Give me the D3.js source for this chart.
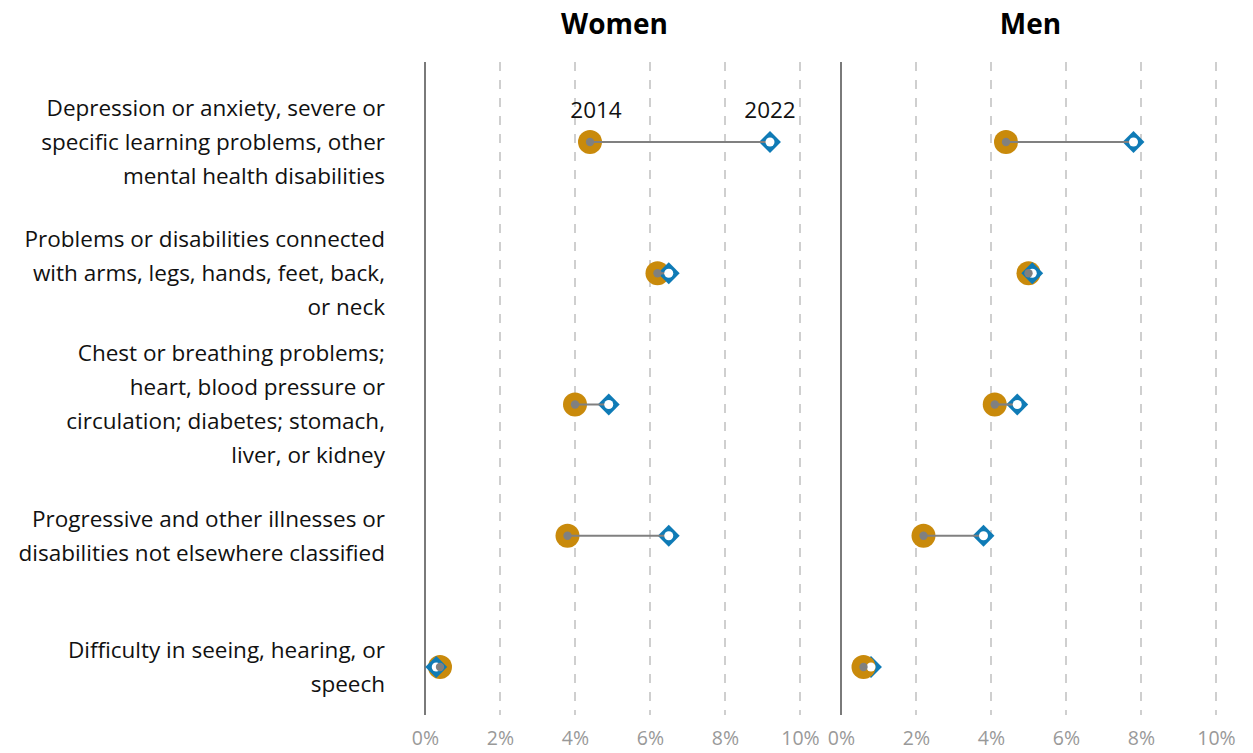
<!DOCTYPE html>
<html><head><meta charset="utf-8">
<script src="https://cdn.jsdelivr.net/npm/d3@7"></script>
<style>body{margin:0;background:#fff}svg{display:block}</style>
</head><body><div id="chart"></div>
<script>
const categories = [
  ["Depression or anxiety, severe or","specific learning problems, other","mental health disabilities"],
  ["Problems or disabilities connected","with arms, legs, hands, feet, back,","or neck"],
  ["Chest or breathing problems;","heart, blood pressure or","circulation; diabetes; stomach,","liver, or kidney"],
  ["Progressive and other illnesses or","disabilities not elsewhere classified"],
  ["Difficulty in seeing, hearing, or","speech"]
];
const panels = ["Women","Men"];
const women2014 = [4.4, 6.2, 4.0, 3.8, 0.4];
const women2022 = [9.2, 6.5, 4.9, 6.5, 0.3];
const men2014 = [4.4, 5.0, 4.1, 2.2, 0.6];
const men2022 = [7.8, 5.1, 4.7, 3.8, 0.8];
const tickValues = [0, 2, 4, 6, 8, 10];
const years = ["2014", "2022"];

const W = 1253, H = 753;
const font = "'Open Sans', 'Lato', sans-serif";
const gold = "#c98a0b", blue = "#0f7bb6";
const svg = d3.select("#chart").append("svg").attr("width", W).attr("height", H)
  .style("font-family", font);

const y = d3.scalePoint().domain(d3.range(categories.length)).range([142, 667]);
const panelX = [
  d3.scaleLinear().domain([0, 10]).range([425, 800]),
  d3.scaleLinear().domain([0, 10]).range([841, 1216])
];
const data = [
  {a: women2014, b: women2022},
  {a: men2014, b: men2022}
];

const lab = svg.append("g");
categories.forEach((lines, i) => {
  const n = lines.length, lh = 34;
  const t = lab.append("text").attr("text-anchor", "end").attr("font-size", 22.5).attr("fill", "#111");
  lines.forEach((l, j) => {
    t.append("tspan").attr("x", 385).attr("y", y(i) + (j - (n - 1) / 2) * lh).attr("dy", "0.35em").text(l);
  });
});

panels.forEach((p, pi) => {
  const x = panelX[pi];
  const g = svg.append("g");
  g.append("text").attr("x", (x(0) + x(10)) / 2 + 2).attr("y", 34).attr("text-anchor", "middle")
    .attr("font-size", 28).attr("font-weight", "bold").attr("fill", "#000").text(p);
  g.selectAll("line.grid").data(tickValues.filter(d => d > 0)).join("line")
    .attr("x1", d => x(d)).attr("x2", d => x(d)).attr("y1", 62).attr("y2", 715)
    .attr("stroke", "#cfcfcf").attr("stroke-width", 2).attr("stroke-dasharray", "9,9");
  g.append("line").attr("x1", x(0)).attr("x2", x(0)).attr("y1", 62).attr("y2", 715)
    .attr("stroke", "#7a7a7a").attr("stroke-width", 2);
  const ax = d3.axisBottom(x).tickValues(tickValues).tickFormat(d => d + "%").tickSize(0).tickPadding(0);
  const axg = g.append("g").attr("transform", "translate(0,738)").call(ax);
  axg.select(".domain").remove();
  axg.selectAll("text").attr("font-size", 19.5).attr("fill", "#999").attr("font-family", font)
    .attr("dy", "0.35em");

  const d = data[pi];
  const rows = d3.range(categories.length);
  rows.forEach(i => {
    const cy = y(i);
    const drawCircle = () => g.append("circle").attr("cx", x(d.a[i])).attr("cy", cy).attr("r", 12).attr("fill", gold);
    const drawDiamond = () => g.append("path")
      .attr("d", d3.symbol().type(d3.symbolSquare).size(240))
      .attr("transform", `translate(${x(d.b[i])},${cy}) rotate(45)`).attr("fill", blue);
    if (pi === 1 && i === categories.length - 1) { drawDiamond(); drawCircle(); }
    else { drawCircle(); drawDiamond(); }
    g.append("line").attr("x1", x(d.a[i])).attr("x2", x(d.b[i])).attr("y1", cy).attr("y2", cy)
      .attr("stroke", "#808080").attr("stroke-width", 2.2);
    g.append("circle").attr("cx", x(d.b[i])).attr("cy", cy).attr("r", 4.5).attr("fill", "#fff");
    g.append("circle").attr("cx", x(d.a[i])).attr("cy", cy).attr("r", 4.2).attr("fill", "#808080");
  });
  if (pi === 0) {
    g.append("text").attr("x", x(d.a[0]) + 6).attr("y", 118).attr("text-anchor", "middle")
      .attr("font-size", 22.5).attr("fill", "#111").text(years[0]);
    g.append("text").attr("x", x(d.b[0])).attr("y", 118).attr("text-anchor", "middle")
      .attr("font-size", 22.5).attr("fill", "#111").text(years[1]);
  }
});
</script></body></html>
